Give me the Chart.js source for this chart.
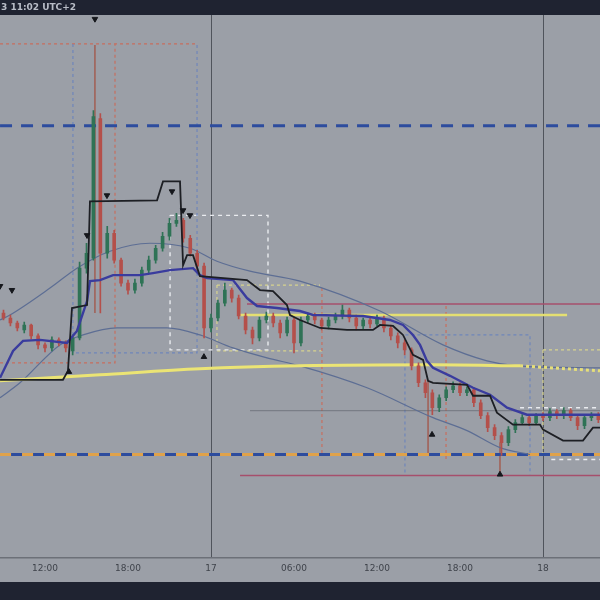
<!DOCTYPE html>
<html>
<head>
<meta charset="utf-8">
<script src="https://cdn.jsdelivr.net/npm/chart.js@4.4.0/dist/chart.umd.min.js"></script>
<style>
    html, body { margin: 0; padding: 0; background: #1f2331; }
    #wrap { width: 600px; height: 600px; }
</style>
</head>
<body>
<div id="wrap"><canvas id="chart" width="600" height="600"></canvas></div>
<script>
// ===== DATA (hours since 00:00 on the 16th, price in chart units) =====
const timeTicks = [12, 18, 24, 30, 36, 42, 48];
const timeLabels = ['12:00', '18:00', '17', '06:00', '12:00', '18:00', '18'];
const dayBreaks = [24, 48];

const firstBar = 9;      // 09:00
const barHours = 0.5;    // 30 min candles

const opens = [245, 240, 235, 228, 233, 222, 213, 210, 218, 215, 207, 220, 290, 300, 440, 305, 325, 298, 275, 268,
    275, 288, 298, 310, 322, 335, 338, 320, 305, 292, 230, 240, 255, 268, 260, 242, 228, 220, 238, 242,
    235, 225, 238, 215, 238, 242, 238, 232, 238, 242, 248, 240, 232, 238, 234, 240, 230, 222, 215, 208,
    192, 175, 165, 150, 160, 168, 172, 165, 168, 155, 142, 130, 122, 115, 128, 135, 140, 135, 142, 140,
    146, 142, 147, 140, 132, 140, 142];
const highs = [248, 243, 237, 236, 234, 224, 215, 221, 220, 217, 223, 296, 315, 448, 445, 332, 328, 300, 278, 279,
    291, 302, 313, 326, 340, 345, 340, 323, 308, 295, 244, 258, 275, 270, 263, 245, 231, 241, 246, 245,
    238, 241, 240, 241, 245, 245, 240, 241, 245, 253, 250, 243, 240, 240, 243, 242, 233, 225, 218, 210,
    195, 178, 168, 163, 171, 176, 175, 171, 170, 158, 145, 133, 125, 131, 138, 143, 142, 144, 145, 149,
    148, 150, 149, 142, 142, 145, 145];
const lows = [238, 232, 227, 225, 219, 209, 206, 207, 212, 206, 203, 218, 285, 298, 245, 300, 295, 272, 264, 265,
    272, 285, 295, 307, 318, 332, 316, 302, 288, 220, 226, 237, 252, 256, 239, 224, 214, 217, 235, 231,
    220, 222, 205, 212, 235, 234, 228, 229, 235, 239, 236, 228, 229, 230, 232, 226, 218, 210, 203, 188,
    171, 160, 143, 146, 157, 165, 162, 162, 151, 139, 126, 118, 102, 112, 125, 133, 132, 133, 137, 137,
    139, 139, 137, 128, 129, 137, 135];
const closes = [240, 235, 230, 233, 222, 213, 210, 218, 215, 210, 220, 290, 305, 442, 305, 325, 298, 275, 268, 275,
    288, 298, 310, 322, 335, 338, 320, 305, 292, 230, 240, 255, 268, 260, 242, 228, 220, 238, 242, 235,
    225, 238, 215, 238, 242, 238, 232, 238, 242, 248, 240, 232, 238, 234, 240, 230, 222, 215, 208, 192,
    175, 165, 150, 160, 168, 172, 165, 168, 155, 142, 130, 122, 115, 128, 135, 140, 135, 142, 140, 146,
    142, 147, 140, 132, 140, 142, 138];

// trailing stop (black)
const stopLine = [[8.75, 178], [13.30, 178], [13.66, 187], [13.95, 250], [15.04, 253], [15.25, 357], [20.10, 358],
    [20.53, 377], [21.76, 377], [21.98, 293], [22.27, 303], [22.70, 303], [23.20, 282], [26.60, 278], [27.54, 268],
    [28.48, 267], [29.49, 253], [29.71, 243], [30.43, 238], [31.88, 230], [33.83, 228], [35.71, 228], [36.22, 233],
    [37.16, 232], [37.88, 223], [38.60, 203], [39.33, 198], [39.69, 177], [40.05, 175], [42.51, 173], [42.94, 162],
    [44.17, 162], [44.67, 145], [45.83, 133], [47.78, 133], [48.00, 128], [49.45, 117], [50.89, 117], [51.61, 130],
    [52.12, 130]];
// vwap (blue)
const vwapLine = [[8.75, 180], [9.69, 207], [10.41, 217], [11.64, 218], [13.59, 215], [14.31, 227], [15.04, 257],
    [15.25, 277], [15.98, 278], [16.92, 283], [18.87, 283], [19.81, 285], [21.04, 288], [22.70, 290], [23.20, 283],
    [23.71, 280], [25.59, 278], [26.60, 260], [27.33, 252], [28.77, 250], [30.43, 247], [31.37, 243], [34.99, 242],
    [36.94, 238], [37.88, 233], [38.60, 223], [39.11, 213], [39.61, 197], [40.05, 190], [41.28, 182], [42.94, 170],
    [44.17, 163], [45.40, 150], [46.84, 143], [52.12, 143]];
// long bands (thin)
const upperBand = [[8.75, 238], [9.47, 243], [12.36, 270], [14.31, 290], [16.70, 307], [19.59, 315], [22.48, 310],
    [24.43, 297], [26.82, 287], [30.43, 277], [36.22, 247], [40.77, 213], [43.95, 197], [46.12, 192], [52.12, 190]];
const lowerBand = [[8.75, 160], [10.19, 175], [13.08, 213], [14.75, 223], [17.21, 230], [20.82, 230], [23.20, 223],
    [25.59, 210], [28.05, 200], [30.43, 192], [35.28, 170], [40.05, 140], [42.51, 127], [44.89, 110], [47.06, 103]];
// slow average (yellow)
const slowAvg = [[8.75, 177], [15.98, 183], [23.20, 189], [30.43, 192], [40.05, 193], [46.34, 192]];
const slowAvgAhead = [[46.34, 192], [52.12, 187]];

// levels
const topLevel = 433;
const bottomLevel = 103;
const yellowLevel = { from: 26.10, to: 49.74, price: 243 };
const upperRange = { from: 26.60, to: 52.12, price: 254 };
const lowerRange = { from: 26.10, to: 52.12, price: 82 };
const greyLevel = { from: 26.82, to: 52.12, price: 147 };

// zones drawn as dotted outlines
const blueZones = [
    [[14.02, 515], [14.02, 205], [22.99, 205], [22.99, 515]],
    [[38.02, 85], [38.02, 223], [47.06, 223], [47.06, 83]]
];
const redZones = [
    [[8.75, 515], [22.99, 515]],
    [[8.75, 195], [17.06, 195], [17.06, 515]],
    [[32.02, 270], [32.02, 103]],
    [[40.99, 252], [40.99, 97]]
];
const whiteZones = [
    [[21.04, 343], [28.12, 343], [28.12, 208], [21.04, 208], [21.04, 343]],
    [[46.34, 150], [52.12, 150]],
    [[48.6, 98], [52.12, 98]]
];
const yellowZones = [
    [[24.43, 273], [31.88, 273]],
    [[24.43, 273], [24.43, 207], [32.02, 207]],
    [[48.00, 208], [52.12, 208]],
    [[48.00, 208], [48.00, 100]]
];
const markerLines = [
    [[15.61, 514], [15.61, 245]],
    [[39.69, 177], [39.69, 103]],
    [[44.89, 115], [44.89, 82]]
];

const sellSignals = [[15.61, 540], [16.48, 363], [15.04, 323], [8.75, 272], [9.61, 268], [21.18, 367], [21.98, 348], [22.48, 343]];
const buySignals = [[13.73, 186], [23.49, 201], [39.98, 123], [44.89, 83]];

// ===== BUILD =====
const UP = '#2f7356';
const DOWN = '#b4504b';

const barTimes = opens.map((_, i) => firstBar + i * barHours);
const candleColors = opens.map((o, i) => closes[i] >= o ? UP : DOWN);

function toPoints(list) {
    return list.map(([x, y]) => ({ x, y }));
}

function joinPaths(paths) {
    const out = [];
    paths.forEach((p, idx) => {
        if (idx > 0) out.push({ x: p[0][0], y: null });
        out.push(...toPoints(p));
    });
    return out;
}

function line(points, style) {
    return Object.assign({
        type: 'line',
        data: points,
        pointRadius: 0,
        borderWidth: 1,
        fill: false,
        tension: 0,
        spanGaps: false,
    }, style);
}

function level(l) {
    return [{ x: l.from, y: l.price }, { x: l.to, y: l.price }];
}

const datasets = [
    {
        type: 'line', data: toPoints(sellSignals), showLine: false,
        pointStyle: 'triangle', rotation: 180, pointRadius: 3.2,
        pointBackgroundColor: '#15171c', pointBorderColor: '#15171c', order: 0
    },
    {
        type: 'line', data: toPoints(buySignals), showLine: false,
        pointStyle: 'triangle', pointRadius: 3.2,
        pointBackgroundColor: '#15171c', pointBorderColor: '#15171c', order: 0
    },
    line(toPoints(stopLine), { borderColor: '#1d1f24', borderWidth: 1.8, order: 1 }),
    line(toPoints(vwapLine), { borderColor: '#3a3c9e', borderWidth: 2.4, order: 2 }),
    {
        type: 'bar',
        data: barTimes.map((t, i) => ({ x: t, y: [lows[i], highs[i]] })),
        backgroundColor: candleColors, barThickness: 1, grouped: false, order: 3
    },
    {
        type: 'bar',
        data: barTimes.map((t, i) => ({ x: t, y: [opens[i], closes[i]] })),
        backgroundColor: candleColors, barThickness: 3, grouped: false, order: 3
    },
    line(toPoints(slowAvg), { borderColor: '#ebe474', borderWidth: 3, tension: 0.4, cubicInterpolationMode: 'monotone', order: 4 }),
    line(toPoints(slowAvgAhead), { borderColor: '#e6df7a', borderWidth: 3, borderDash: [3, 3], order: 4 }),
    line(toPoints(upperBand), { borderColor: '#5d6e94', borderWidth: 1.2, cubicInterpolationMode: 'monotone', order: 5 }),
    line(toPoints(lowerBand), { borderColor: '#5d6e94', borderWidth: 1.2, cubicInterpolationMode: 'monotone', order: 5 }),
    line(level(yellowLevel), { borderColor: '#e4df72', borderWidth: 2.5, order: 6 }),
    line(level(upperRange), { borderColor: '#a64f6c', borderWidth: 1.6, order: 6 }),
    line(level(lowerRange), { borderColor: '#a64f6c', borderWidth: 1.6, order: 6 }),
    line(level(greyLevel), { borderColor: 'rgba(90,94,102,0.6)', borderWidth: 1, order: 7 }),
    line([{ x: 8.75, y: topLevel }, { x: 52.12, y: topLevel }], { borderColor: '#2d4c9e', borderWidth: 3, borderDash: [12, 9], order: 6 }),
    line([{ x: 8.75, y: bottomLevel }, { x: 52.12, y: bottomLevel }], { borderColor: '#e0a24a', borderWidth: 3, borderDash: [11, 11], order: 6 }),
    line([{ x: 8.75, y: bottomLevel }, { x: 52.12, y: bottomLevel }], { borderColor: '#2d4c9e', borderWidth: 3, borderDash: [11, 11], borderDashOffset: 11, order: 6 }),
    line(joinPaths(blueZones), { borderColor: '#6f86bb', borderWidth: 1.2, borderDash: [3, 3], order: 8 }),
    line(joinPaths(redZones), { borderColor: '#c86e5e', borderWidth: 1.2, borderDash: [3, 3], order: 8 }),
    line(joinPaths(whiteZones), { borderColor: '#e9ebef', borderWidth: 1.4, borderDash: [4, 4], order: 8 }),
    line(joinPaths(yellowZones), { borderColor: '#d8d48e', borderWidth: 1.2, borderDash: [3, 3], order: 8 }),
    line(joinPaths(markerLines), { borderColor: '#a35447', borderWidth: 1.3, order: 8 }),
];

const backdrop = {
    id: 'backdrop',
    beforeDraw(chart) {
        const c = chart.ctx;
        c.save();
        c.fillStyle = '#9b9fa7';
        c.fillRect(0, 0, chart.width, chart.height);
        c.fillStyle = '#1f2331';
        c.fillRect(0, 0, chart.width, 15);
        c.fillRect(0, 582, chart.width, chart.height - 582);
        c.restore();
    },
    afterDraw(chart) {
        const c = chart.ctx;
        c.save();
        c.fillStyle = '#b9bdc7';
        c.font = 'bold 9px "DejaVu Sans", sans-serif';
        c.textBaseline = 'middle';
        c.fillText('3 11:02 UTC+2', 1, 8);
        c.restore();
    }
};

new Chart(document.getElementById('chart'), {
    type: 'bar',
    data: { datasets },
    plugins: [backdrop],
    options: {
        responsive: false,
        animation: false,
        layout: { autoPadding: false, padding: { top: 15, bottom: 21, left: 0, right: 0 } },
        plugins: { legend: { display: false }, tooltip: { enabled: false } },
        scales: {
            x: {
                type: 'linear',
                min: 8.747,
                max: 52.12,
                offset: false,
                afterBuildTicks: axis => { axis.ticks = timeTicks.map(v => ({ value: v })); },
                ticks: {
                    autoSkip: false,
                    maxRotation: 0,
                    padding: 5,
                    color: '#3f434b',
                    font: { size: 9, family: 'DejaVu Sans' },
                    callback: (v) => timeLabels[timeTicks.indexOf(v)] || '',
                },
                grid: {
                    offset: false,
                    drawTicks: false,
                    lineWidth: 1,
                    color: ctx => (ctx.tick && dayBreaks.includes(ctx.tick.value)) ? '#50545c' : 'rgba(0,0,0,0)',
                },
                border: { display: true, color: '#6c7078', width: 1.5 },
            },
            y: { display: false, min: -1, max: 544 },
        }
    }
});
</script>
</body>
</html>
